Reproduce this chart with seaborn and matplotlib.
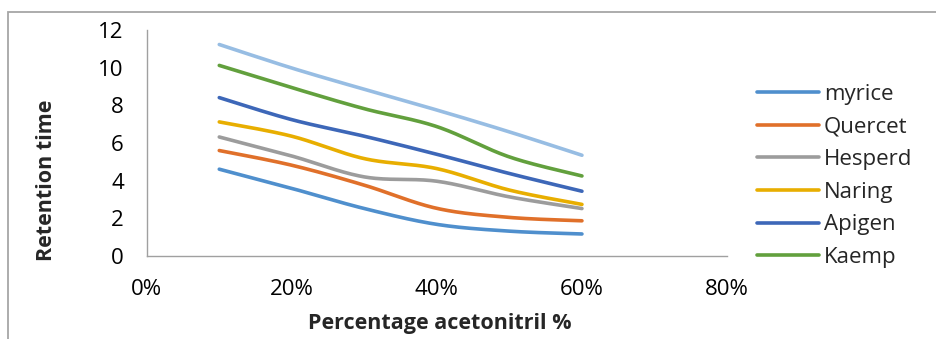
import numpy as np
import pandas as pd
import matplotlib
matplotlib.use("Agg")
import matplotlib.pyplot as plt
import seaborn as sns
from matplotlib.patches import Rectangle

# Acetonitrile fraction in the mobile phase
acetonitrile = [0.10, 0.20, 0.30, 0.40, 0.50, 0.60]

# Retention times (min) per flavonoid
myrice = [4.61, 3.59, 2.52, 1.68, 1.32, 1.17]
quercet = [5.60, 4.82, 3.76, 2.53, 2.05, 1.87]
hesperd = [6.32, 5.31, 4.20, 3.97, 3.14, 2.52]
naring = [7.12, 6.36, 5.17, 4.64, 3.50, 2.74]
apigen = [8.41, 7.24, 6.36, 5.40, 4.38, 3.44]
kaemp = [10.12, 8.94, 7.82, 6.87, 5.26, 4.25]
luteol = [11.23, 9.98, 8.85, 7.75, 6.59, 5.35]

series_names = ["myrice", "Quercet", "Hesperd", "Naring", "Apigen", "Kaemp", "Luteol"]
series_values = [myrice, quercet, hesperd, naring, apigen, kaemp, luteol]
legend_names = ["myrice", "Quercet", "Hesperd", "Naring", "Apigen", "Kaemp"]

colors = ["#4F8FCD", "#E0702A", "#9C9C9C", "#E8AE00", "#3D67B8", "#62A03D", "#97BDE3"]

x_ticks = [0.0, 0.2, 0.4, 0.6, 0.8]
x_tick_labels = ["0%", "20%", "40%", "60%", "80%"]
y_ticks = [0, 2, 4, 6, 8, 10, 12]


def smooth(xs, ys, n=40):
    """Cardinal (Catmull-Rom style) Bezier smoothing through every point."""
    xs = np.asarray(xs, float)
    ys = np.asarray(ys, float)
    px = np.concatenate([[xs[0]], xs, [xs[-1]]])
    py = np.concatenate([[ys[0]], ys, [ys[-1]]])
    out_x, out_y = [], []
    t = np.linspace(0, 1, n)
    for i in range(1, len(px) - 2):
        p0 = np.array([px[i], py[i]])
        p3 = np.array([px[i + 1], py[i + 1]])
        c1 = p0 + (np.array([px[i + 1], py[i + 1]]) - np.array([px[i - 1], py[i - 1]])) / 6
        c2 = p3 - (np.array([px[i + 2], py[i + 2]]) - np.array([px[i], py[i]])) / 6
        b = ((1 - t) ** 3)[:, None] * p0 + (3 * (1 - t) ** 2 * t)[:, None] * c1 \
            + (3 * (1 - t) * t ** 2)[:, None] * c2 + (t ** 3)[:, None] * p3
        if i > 1:
            b = b[1:]
        out_x.extend(b[:, 0])
        out_y.extend(b[:, 1])
    return out_x, out_y


rows = []
for name, vals in zip(series_names, series_values):
    sx, sy = smooth(acetonitrile, vals)
    for k, (a, b) in enumerate(zip(sx, sy)):
        rows.append({"series": name, "order": k, "x": a, "y": b})
df = pd.DataFrame(rows)

sns.set_style("white")
plt.rcParams["font.family"] = ["Open Sans", "DejaVu Sans"]

fig = plt.figure(figsize=(9.37, 3.39), dpi=100)
ax = fig.add_axes([0.1566, 0.2448, 0.6193, 0.6667])

sns.lineplot(data=df, x="x", y="y", hue="series", hue_order=series_names,
             palette=colors, sort=False, estimator=None, units="series",
             linewidth=2.6, ax=ax, legend=False)
for line in ax.lines:
    line.set_solid_capstyle("round")

ax.set_xlim(0, 0.8)
ax.set_ylim(0, 12)
ax.set_xticks(x_ticks)
ax.set_xticklabels(x_tick_labels)
ax.set_yticks(y_ticks)

for side in ["top", "right"]:
    ax.spines[side].set_visible(False)
for side in ["left", "bottom"]:
    ax.spines[side].set_color("#A0A0A0")
    ax.spines[side].set_linewidth(1.0)
ax.tick_params(axis="both", which="major", direction="out", length=6.5,
               width=1.0, color="#A0A0A0", labelsize=16, labelcolor="#000000")
ax.tick_params(axis="x", pad=10)
ax.tick_params(axis="y", pad=10)

ax.set_xlabel("Percentage acetonitril %", fontsize=15.5, fontweight="bold")
ax.set_ylabel("Retention time", fontsize=15.5, fontweight="bold")
ax.xaxis.set_label_coords(0.505, -0.30)
ax.xaxis.label.set_va("center")
ax.yaxis.set_label_coords(-0.172, 0.336)
ax.yaxis.label.set_va("center")

# Legend entries for the first six compounds
handles = [plt.Line2D([0], [0], color=c, lw=2.6, solid_capstyle="round")
           for c in colors[:6]]
fig.legend(handles, legend_names, loc="upper left", bbox_to_anchor=(0.7987, 0.778),
           frameon=False, fontsize=16, handlelength=2.8, handletextpad=0.2,
           labelspacing=0.52, borderaxespad=0)

# Chart area border
fig.patches.append(Rectangle((8.5 / 937, -0.1), 1.2, 1 - 11.5 / 339 + 0.1,
                             transform=fig.transFigure, fill=False,
                             edgecolor="#A6A6A6", linewidth=1.3, clip_on=False))

fig.savefig("out.png", dpi=100)
